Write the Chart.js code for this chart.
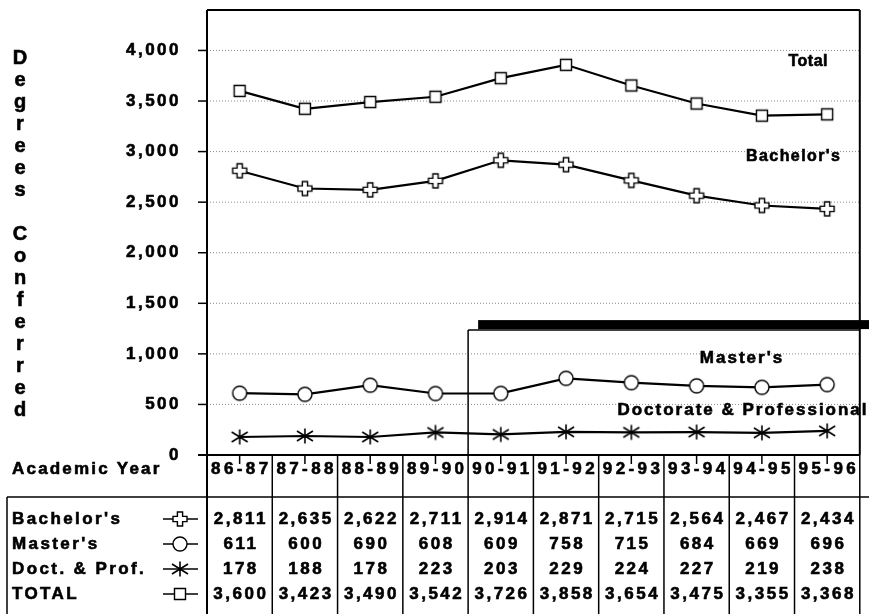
<!DOCTYPE html>
<html>
<head>
<meta charset="utf-8">
<script src="https://cdn.jsdelivr.net/npm/chart.js@4.4.1/dist/chart.umd.min.js"></script>
<style>
  html, body { margin: 0; padding: 0; background: #fff; }
  #wrap { width: 869px; height: 614px; }
</style>
</head>
<body>
<div id="wrap"><canvas id="chart" width="869" height="614"></canvas></div>
<script>
const years = ['86-87', '87-88', '88-89', '89-90', '90-91', '91-92', '92-93', '93-94', '94-95', '95-96'];
const bachelors = [2811, 2635, 2622, 2711, 2914, 2871, 2715, 2564, 2467, 2434];
const masters = [611, 600, 690, 608, 609, 758, 715, 684, 669, 696];
const doctorate = [178, 188, 178, 223, 203, 229, 224, 227, 219, 238];
const totals = [3600, 3423, 3490, 3542, 3726, 3858, 3654, 3475, 3355, 3368];
const yTicks = [0, 500, 1000, 1500, 2000, 2500, 3000, 3500, 4000];
const rowNames = ["Bachelor's", "Master's", 'Doct. & Prof.', 'TOTAL'];
const yTitle = 'Degrees Conferred';

const FONT = '"Liberation Sans", Arial, sans-serif';
const fmt = v => v.toLocaleString('en-US');

// marker images
function makeMarker(kind) {
  const c = document.createElement('canvas');
  c.width = 20; c.height = 20;
  const g = c.getContext('2d');
  g.translate(10, 10);
  g.strokeStyle = '#000';
  g.fillStyle = '#fff';
  g.lineWidth = 1.4;
  g.beginPath();
  if (kind === 'cross') {
    const a = 2.6, s = 7;
    const pts = [[-a,-s],[a,-s],[a,-a],[s,-a],[s,a],[a,a],[a,s],[-a,s],[-a,a],[-s,a],[-s,-a],[-a,-a]];
    pts.forEach((p, i) => i ? g.lineTo(p[0], p[1]) : g.moveTo(p[0], p[1]));
    g.closePath(); g.fill(); g.stroke();
  } else if (kind === 'circle') {
    g.arc(0, 0, 7, 0, Math.PI * 2);
    g.fill(); g.stroke();
  } else if (kind === 'square') {
    g.rect(-5.5, -5.5, 11, 11);
    g.fill(); g.stroke();
  } else {
    g.lineWidth = 1.6;
    g.moveTo(0, -7.5); g.lineTo(0, 7.5);
    g.moveTo(-8, -5); g.lineTo(8, 5);
    g.moveTo(-8, 5); g.lineTo(8, -5);
    g.stroke();
  }
  return c;
}
const markers = {
  bach: makeMarker('cross'),
  mast: makeMarker('circle'),
  doct: makeMarker('star'),
  tot: makeMarker('square')
};
const rowData = [bachelors, masters, doctorate, totals];
const rowMarkers = [markers.bach, markers.mast, markers.doct, markers.tot];

function txt(ctx, s, x, y, size, spacing, align) {
  ctx.font = 'bold ' + size + 'px ' + FONT;
  ctx.letterSpacing = spacing + 'px';
  ctx.textAlign = align || 'left';
  ctx.textBaseline = 'middle';
  ctx.fillStyle = '#000';
  ctx.strokeStyle = '#000';
  ctx.lineWidth = 0.6;
  const shift = align === 'center' ? spacing / 2 : (align === 'right' ? spacing : 0);
  ctx.fillText(s, x + shift, y);
  ctx.strokeText(s, x + shift, y);
}

function line(ctx, x1, y1, x2, y2, w) {
  ctx.lineWidth = w || 1.5;
  ctx.beginPath();
  ctx.moveTo(x1, y1);
  ctx.lineTo(x2, y2);
  ctx.stroke();
}

const paper = {
  id: 'paper',
  beforeDraw(chart) {
    const ctx = chart.ctx;
    ctx.save();
    ctx.fillStyle = '#fff';
    ctx.fillRect(0, 0, chart.width, chart.height);
    ctx.restore();
    ctx.letterSpacing = '2.5px';
  },
  beforeDatasetsDraw(chart) {
    const ctx = chart.ctx, a = chart.chartArea;
    const x = chart.scales.x, y = chart.scales.y;
    ctx.save();
    ctx.letterSpacing = '0px';
    // dotted grid
    ctx.strokeStyle = '#8a8a8a';
    ctx.setLineDash([1, 2]);
    yTicks.forEach(v => { if (v > 0) line(ctx, a.left, y.getPixelForValue(v), a.right, y.getPixelForValue(v), 1); });
    ctx.setLineDash([]);
    ctx.strokeStyle = '#000';
    // y tick marks
    yTicks.forEach(v => line(ctx, a.left - 9, y.getPixelForValue(v), a.left, y.getPixelForValue(v), 1.5));
    // frame
    line(ctx, a.left, a.top, a.right, a.top, 2);
    line(ctx, a.right, a.top, a.right, a.bottom, 2);
    line(ctx, a.left, a.top, a.left, chart.height, 2);
    line(ctx, a.left - 9, a.bottom, a.right, a.bottom, 2);
    // category ticks and table columns
    const half = (x.getPixelForValue(1) - x.getPixelForValue(0)) / 2;
    years.forEach((yr, i) => {
      const cx = x.getPixelForValue(i);
      line(ctx, cx, a.bottom, cx, a.bottom + 9, 1.5);
      line(ctx, cx + half, a.bottom, cx + half, chart.height, 1.5);
    });
    // boxed region
    const bx = x.getPixelForValue(3) + half;
    const by = y.getPixelForValue(1235);
    line(ctx, bx, by, a.right, by, 1.5);
    line(ctx, bx, by, bx, a.bottom, 1.5);
    ctx.fillStyle = '#000';
    ctx.fillRect(bx + 10, by - 10, chart.width - bx - 10, 9);
    ctx.restore();
  },
  afterDraw(chart) {
    const ctx = chart.ctx, a = chart.chartArea;
    const x = chart.scales.x;
    ctx.save();
    ctx.strokeStyle = '#000';
    // y title, stacked letters
    yTitle.split('').forEach((ch, i) => { if (ch !== ' ') txt(ctx, ch, 20, 58 + i * 22, 20, 0, 'center'); });
    // series labels
    txt(ctx, 'Total', 808, 62, 16, 0.5, 'center');
    txt(ctx, "Bachelor's", 793, 157, 16, 1.4, 'center');
    txt(ctx, "Master's", 741, 358, 17, 2, 'center');
    txt(ctx, 'Doctorate & Professional', 742, 410, 17, 2, 'center');
    // table header
    txt(ctx, 'Academic Year', 12, 469, 17, 2.2, 'left');
    years.forEach((yr, i) => txt(ctx, yr, x.getPixelForValue(i), 469, 17, 3.4, 'center'));
    ctx.strokeStyle = '#000';
    line(ctx, 7, 497, chart.width, 497, 1.5);
    line(ctx, 7, 497, 7, chart.height, 1.5);
    // table rows
    const rowY = [519, 544, 569, 594];
    rowNames.forEach((name, r) => {
      const ry = rowY[r];
      txt(ctx, name, 12, ry, 17, 2.4, 'left');
      line(ctx, 163, ry, 198, ry, 1.6);
      const m = rowMarkers[r];
      ctx.drawImage(m, 180 - m.width / 2, ry - m.height / 2);
      rowData[r].forEach((v, i) => txt(ctx, fmt(v), x.getPixelForValue(i), ry, 17, 2.5, 'center'));
    });
    ctx.restore();
  }
};

function series(data, marker) {
  return {
    data: data,
    borderColor: '#000',
    borderWidth: 2.2,
    pointStyle: marker,
    pointRadius: 7,
    pointHoverRadius: 7,
    tension: 0,
    fill: false
  };
}

new Chart(document.getElementById('chart'), {
  type: 'line',
  data: {
    labels: years,
    datasets: [
      series(totals, markers.tot),
      series(bachelors, markers.bach),
      series(masters, markers.mast),
      series(doctorate, markers.doct)
    ]
  },
  options: {
    responsive: false,
    animation: false,
    events: [],
    layout: { padding: { left: 0, top: 10, right: 8, bottom: 159 } },
    plugins: { legend: { display: false }, tooltip: { enabled: false } },
    scales: {
      x: { type: 'category', offset: true, display: false },
      y: {
        min: 0,
        max: 4400,
        grid: { display: false },
        border: { display: false },
        afterBuildTicks: s => { s.ticks = yTicks.map(v => ({ value: v })); },
        afterFit: s => { s.width = 207; s.paddingTop = 0; s.paddingBottom = 0; },
        ticks: {
          color: '#000',
          padding: 18,
          textStrokeColor: '#000',
          textStrokeWidth: 0.6,
          font: { family: FONT, size: 17, weight: 'bold' },
          callback: v => fmt(v)
        }
      }
    }
  },
  plugins: [paper]
});
</script>
</body>
</html>
